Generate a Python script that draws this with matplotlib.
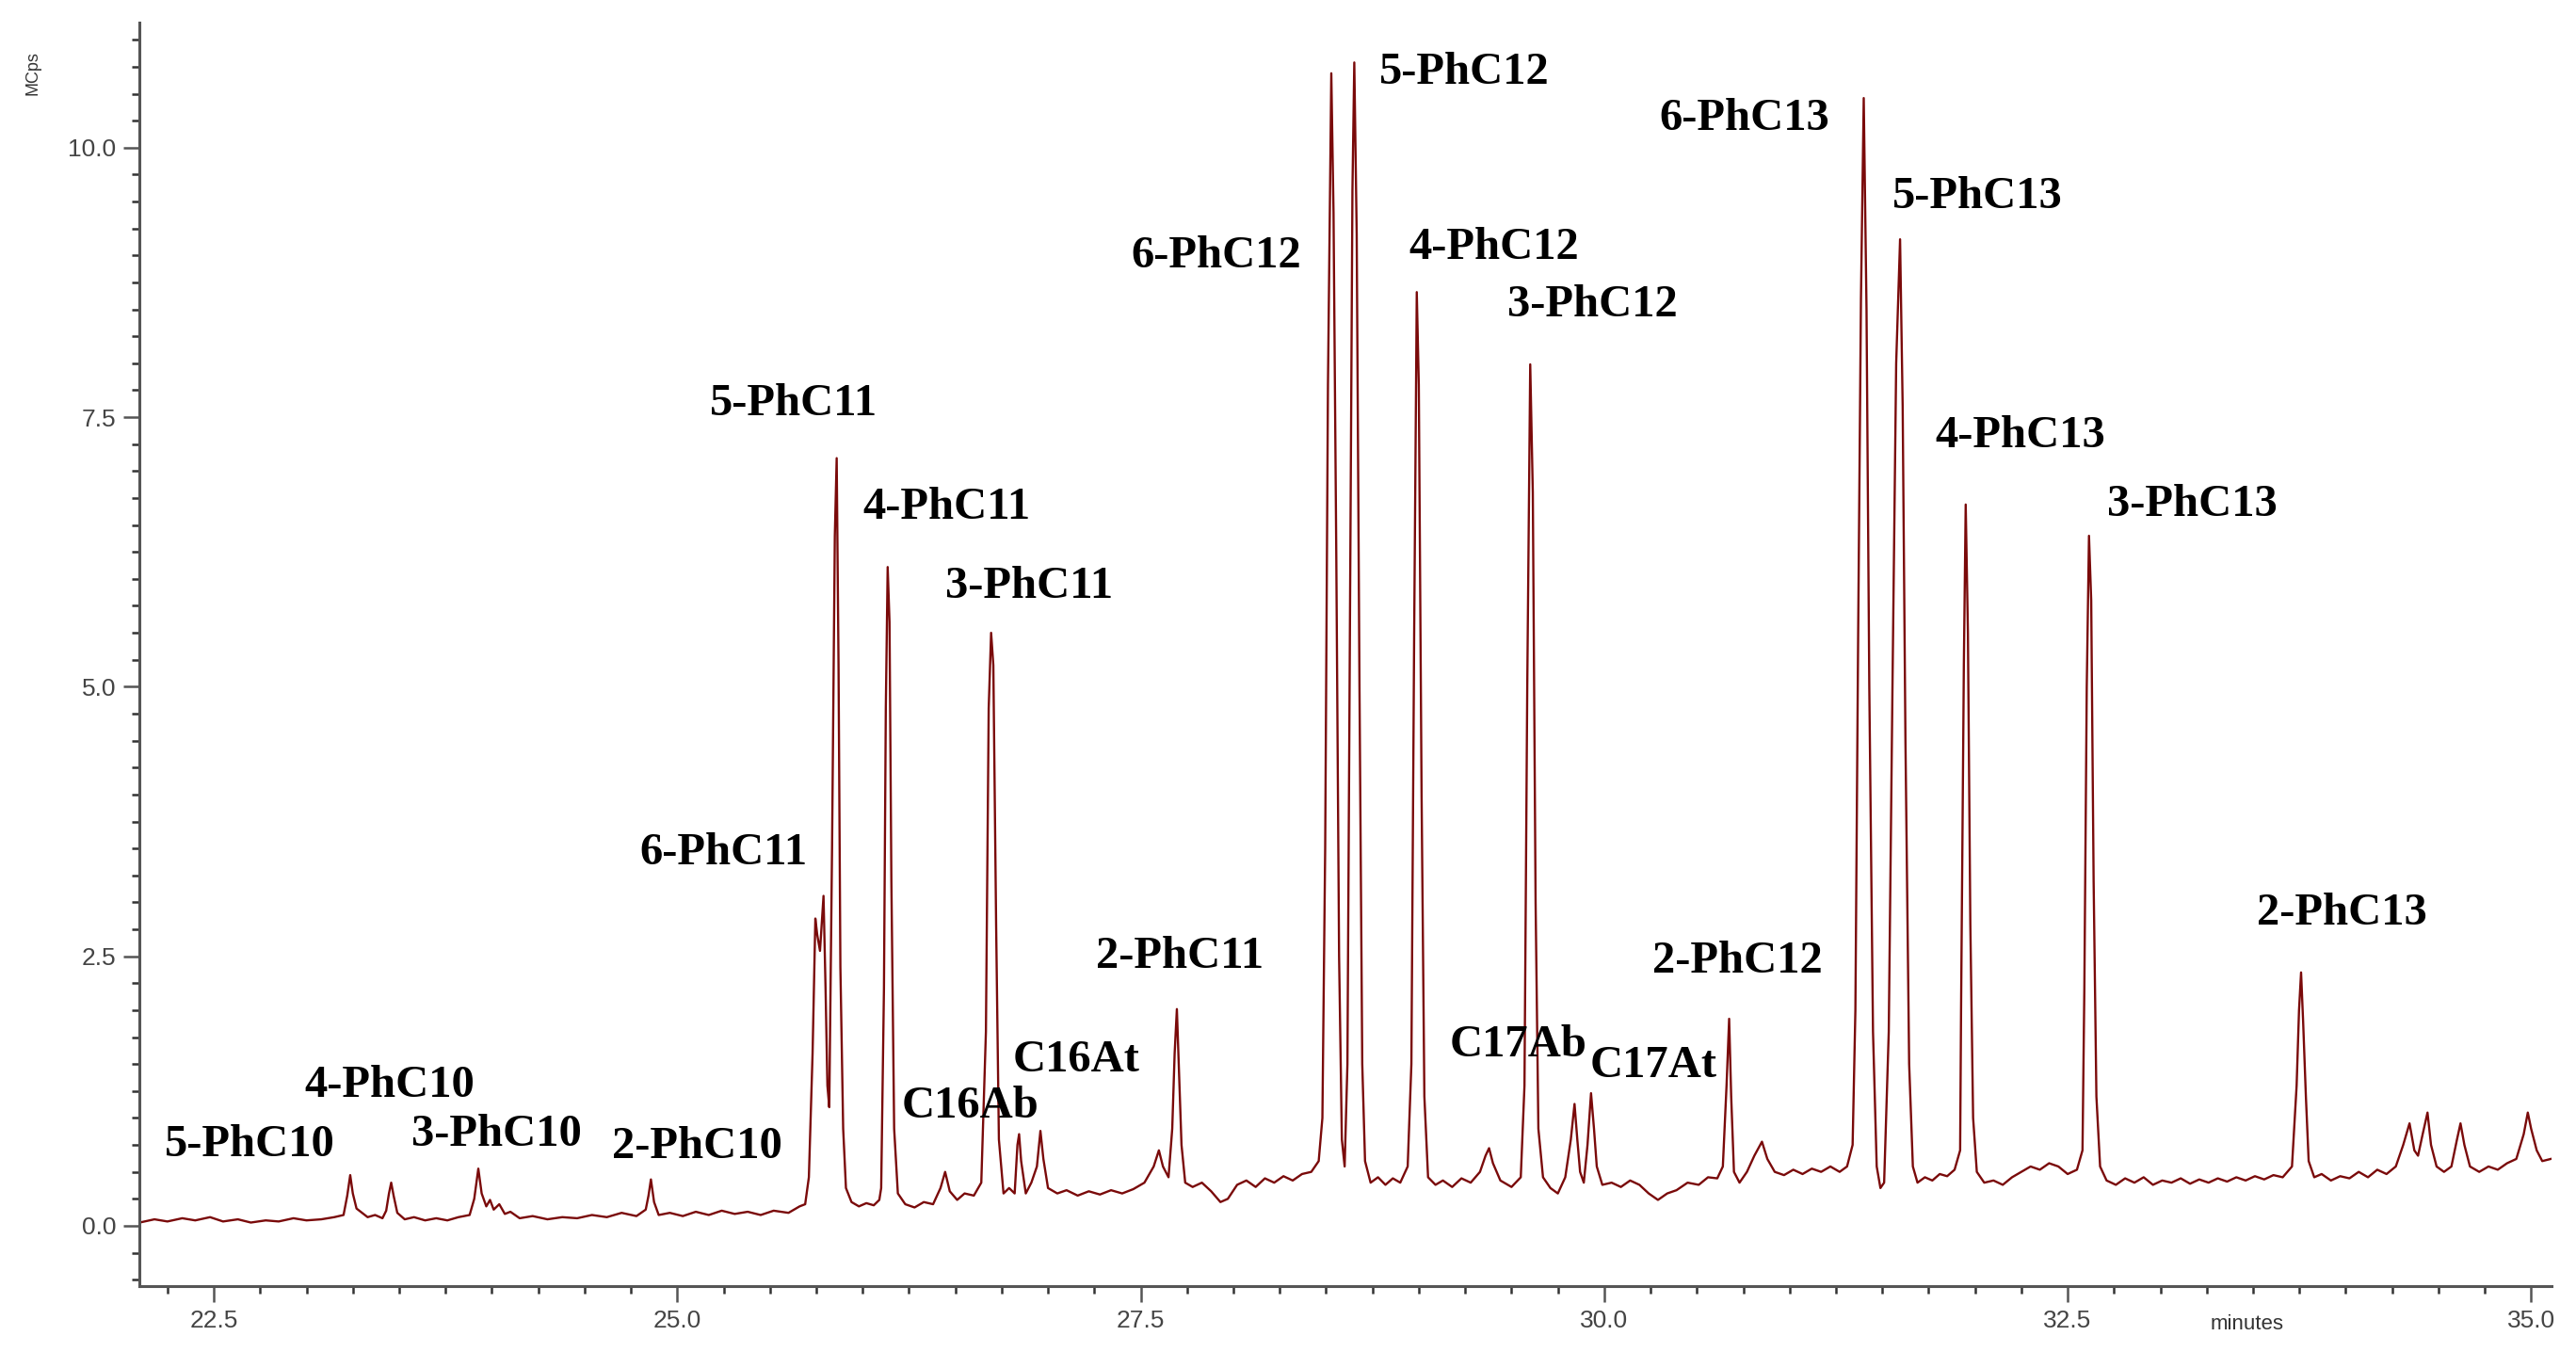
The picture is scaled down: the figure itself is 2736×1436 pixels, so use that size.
import matplotlib
matplotlib.use("Agg")
from matplotlib import pyplot as plt
from matplotlib.ticker import MultipleLocator

# chromatogram trace (minutes, MCps)
rt = [
    22.10, 22.18, 22.25, 22.33, 22.40, 22.48, 22.55, 22.63, 22.70, 22.78, 22.85, 22.93, 23.00, 23.08, 23.15,
    23.20, 23.22, 23.236, 23.25, 23.27, 23.30, 23.33, 23.37, 23.41,
    23.43, 23.445, 23.457, 23.47, 23.49, 23.53, 23.58, 23.64, 23.70, 23.76, 23.82, 23.88,
    23.905, 23.927, 23.945, 23.97, 23.99, 24.01, 24.04, 24.07, 24.10, 24.15, 24.22, 24.30, 24.38, 24.46,
    24.54, 24.62, 24.70, 24.78, 24.83,
    24.845, 24.858, 24.875, 24.90, 24.96, 25.03, 25.10, 25.17, 25.24, 25.31, 25.38, 25.45, 25.52, 25.60,
    25.66, 25.69,
    25.71, 25.73, 25.745, 25.755, 25.77, 25.789, 25.80, 25.81, 25.82, 25.835, 25.85, 25.86, 25.87, 25.88,
    25.895, 25.91, 25.94, 25.98, 26.02, 26.06, 26.09,
    26.10, 26.115, 26.125, 26.135, 26.145, 26.155, 26.17, 26.19, 26.23, 26.28, 26.33, 26.38, 26.42,
    26.445, 26.47, 26.51, 26.55, 26.60, 26.64,
    26.665, 26.68, 26.693, 26.705, 26.72, 26.735, 26.76, 26.79, 26.82, 26.835, 26.844, 26.855, 26.88,
    26.91, 26.94, 26.959, 26.975, 27.00, 27.05, 27.10, 27.16, 27.22, 27.28, 27.34, 27.40, 27.46, 27.52,
    27.57, 27.598, 27.62, 27.65,
    27.67, 27.683, 27.695, 27.705, 27.72, 27.74, 27.78, 27.83, 27.88, 27.93, 27.97, 28.02, 28.07, 28.12,
    28.17, 28.22, 28.27, 28.32, 28.37, 28.42, 28.46,
    28.48, 28.495, 28.51, 28.528, 28.54, 28.555, 28.57, 28.585, 28.60, 28.615, 28.63, 28.642, 28.652,
    28.665, 28.68, 28.695, 28.71, 28.74, 28.78, 28.82, 28.86, 28.90, 28.94,
    28.96, 28.975, 28.989, 29.00, 29.015, 29.03, 29.05, 29.09, 29.13, 29.18, 29.23, 29.28, 29.33, 29.36,
    29.379, 29.40, 29.44, 29.50, 29.55,
    29.57, 29.585, 29.601, 29.615, 29.63, 29.645, 29.67, 29.71, 29.75, 29.79, 29.82, 29.84, 29.855,
    29.87, 29.89, 29.91, 29.929, 29.945, 29.96, 29.99, 30.04, 30.09, 30.14, 30.19, 30.24, 30.29, 30.34,
    30.39, 30.45, 30.51, 30.56, 30.61, 30.64,
    30.66, 30.674, 30.685, 30.70, 30.73, 30.77, 30.81, 30.851, 30.88, 30.92, 30.97, 31.02, 31.07, 31.12,
    31.17, 31.22, 31.27, 31.31, 31.34,
    31.355, 31.37, 31.385, 31.40, 31.415, 31.43, 31.45, 31.47, 31.49, 31.51, 31.535, 31.555, 31.575,
    31.596, 31.61, 31.625, 31.645, 31.665, 31.69, 31.73, 31.77, 31.81, 31.85, 31.89, 31.92,
    31.925, 31.94, 31.95, 31.962, 31.975, 31.99, 32.01, 32.05, 32.10, 32.15, 32.20, 32.25, 32.30, 32.35,
    32.40, 32.45, 32.50, 32.55, 32.58,
    32.59, 32.603, 32.615, 32.627, 32.64, 32.655, 32.675, 32.71, 32.76, 32.81, 32.86, 32.91, 32.96,
    33.01, 33.06, 33.11, 33.16, 33.21, 33.26, 33.31, 33.36, 33.41, 33.46, 33.51, 33.56, 33.61, 33.66,
    33.71,
    33.735, 33.748, 33.759, 33.77, 33.785, 33.80, 33.83, 33.87, 33.92, 33.97, 34.02, 34.07, 34.12, 34.17,
    34.22, 34.27, 34.31, 34.344, 34.37, 34.39, 34.415, 34.441, 34.46, 34.49, 34.53, 34.57, 34.60, 34.619,
    34.64, 34.67, 34.72, 34.77, 34.82, 34.87, 34.92, 34.96, 34.982, 35.00, 35.03, 35.06, 35.106,
]
signal = [
    0.03, 0.06, 0.04, 0.07, 0.05, 0.08, 0.04, 0.06, 0.03, 0.05, 0.04, 0.07, 0.05, 0.06, 0.08,
    0.10, 0.28, 0.47, 0.30, 0.16, 0.12, 0.08, 0.10, 0.07,
    0.14, 0.30, 0.40, 0.28, 0.12, 0.06, 0.08, 0.05, 0.07, 0.05, 0.08, 0.10,
    0.25, 0.53, 0.30, 0.18, 0.24, 0.15, 0.20, 0.11, 0.13, 0.07, 0.09, 0.06, 0.08, 0.07,
    0.10, 0.08, 0.12, 0.09, 0.15,
    0.28, 0.43, 0.22, 0.10, 0.12, 0.09, 0.13, 0.10, 0.14, 0.11, 0.13, 0.10, 0.14, 0.12,
    0.18, 0.20,
    0.45, 1.60, 2.85, 2.70, 2.55, 3.06, 2.20, 1.30, 1.10, 3.50, 6.40, 7.12, 5.20, 2.40,
    0.90, 0.35, 0.22, 0.18, 0.21, 0.19, 0.24,
    0.35, 2.20, 4.80, 6.11, 5.60, 3.20, 0.90, 0.30, 0.20, 0.17, 0.22, 0.20, 0.35,
    0.50, 0.32, 0.24, 0.30, 0.28, 0.40,
    1.80, 4.80, 5.50, 5.20, 2.80, 0.80, 0.30, 0.35, 0.30, 0.75, 0.85, 0.60, 0.30,
    0.40, 0.55, 0.88, 0.62, 0.35, 0.30, 0.33, 0.28, 0.32, 0.29, 0.33, 0.30, 0.34, 0.40,
    0.55, 0.70, 0.55, 0.45,
    0.90, 1.60, 2.01, 1.50, 0.75, 0.40, 0.36, 0.40, 0.32, 0.22, 0.25, 0.38, 0.42, 0.36,
    0.44, 0.40, 0.46, 0.42, 0.48, 0.50, 0.60,
    1.00, 3.50, 7.80, 10.69, 9.40, 6.20, 2.50, 0.80, 0.55, 1.50, 6.00, 9.60, 10.79,
    9.20, 5.00, 1.50, 0.60, 0.40, 0.45, 0.38, 0.44, 0.40, 0.55,
    1.50, 5.50, 8.66, 7.80, 4.00, 1.20, 0.45, 0.38, 0.42, 0.36, 0.44, 0.40, 0.50, 0.65,
    0.72, 0.58, 0.42, 0.36, 0.45,
    1.30, 5.00, 7.99, 6.80, 3.00, 0.90, 0.45, 0.35, 0.30, 0.45, 0.80, 1.13, 0.80,
    0.50, 0.40, 0.75, 1.23, 0.90, 0.55, 0.38, 0.40, 0.36, 0.42, 0.38, 0.30, 0.24, 0.30,
    0.33, 0.40, 0.38, 0.45, 0.44, 0.55,
    1.30, 1.92, 1.20, 0.50, 0.40, 0.50, 0.65, 0.78, 0.62, 0.50, 0.47, 0.52, 0.48, 0.53,
    0.50, 0.55, 0.50, 0.55, 0.75,
    2.00, 5.50, 8.60, 10.46, 8.50, 5.00, 1.80, 0.55, 0.35, 0.40, 1.80, 5.00, 8.00,
    9.15, 7.60, 4.50, 1.50, 0.55, 0.40, 0.45, 0.42, 0.48, 0.46, 0.52, 0.70,
    2.00, 5.20, 6.69, 5.50, 2.80, 1.00, 0.50, 0.40, 0.42, 0.38, 0.45, 0.50, 0.55, 0.52,
    0.58, 0.55, 0.48, 0.52, 0.70,
    2.20, 5.00, 6.40, 5.80, 3.20, 1.20, 0.55, 0.42, 0.38, 0.44, 0.40, 0.45, 0.38,
    0.42, 0.40, 0.44, 0.39, 0.43, 0.40, 0.44, 0.41, 0.45, 0.42, 0.46, 0.43, 0.47, 0.45,
    0.55,
    1.30, 2.00, 2.35, 1.90, 1.20, 0.60, 0.45, 0.48, 0.42, 0.46, 0.44, 0.50, 0.45, 0.52,
    0.48, 0.55, 0.75, 0.95, 0.70, 0.65, 0.85, 1.05, 0.75, 0.55, 0.50, 0.55, 0.80, 0.95,
    0.75, 0.55, 0.50, 0.55, 0.52, 0.58, 0.62, 0.85, 1.05, 0.90, 0.70, 0.60, 0.62,
]

# peak names and where their text sits (centre of the text)
peak_names = ["5-PhC10", "4-PhC10", "3-PhC10", "2-PhC10", "6-PhC11", "5-PhC11", "4-PhC11",
              "3-PhC11", "C16Ab", "C16At", "2-PhC11", "6-PhC12", "5-PhC12", "4-PhC12",
              "3-PhC12", "C17Ab", "C17At", "2-PhC12", "6-PhC13", "5-PhC13", "4-PhC13",
              "3-PhC13", "2-PhC13"]
name_x = [22.695, 23.449, 24.025, 25.106, 25.248, 25.629, 26.454, 26.897, 26.578, 27.154,
          27.713, 27.908, 29.246, 29.406, 29.938, 29.539, 30.266, 30.718, 30.754, 32.012,
          32.243, 33.174, 33.98]
name_y = [0.75, 1.30, 0.85, 0.73, 3.46, 7.62, 6.66, 5.93, 1.11, 1.54, 2.50, 8.99, 10.70,
          9.07, 8.54, 1.68, 1.48, 2.45, 10.27, 9.54, 7.33, 6.69, 2.90]

fig = plt.figure(figsize=(27.36, 14.36), dpi=100)
ax = fig.add_axes([0.0542, 0.0487, 0.9363, 0.9346])

ax.plot(rt, signal, color="#7a0a0a", linewidth=1.7)

for name, x, y in zip(peak_names, name_x, name_y):
    ax.text(x, y, name, ha="center", va="center", fontsize=35, fontweight="bold",
            family="Liberation Serif", color="black")

ax.set_xlim(22.1, 35.11)
ax.set_ylim(-0.56, 11.16)
ax.xaxis.set_major_locator(MultipleLocator(2.5))
ax.xaxis.set_minor_locator(MultipleLocator(0.25))
ax.yaxis.set_major_locator(MultipleLocator(2.5))
ax.yaxis.set_minor_locator(MultipleLocator(0.25))
ax.xaxis.set_major_formatter(lambda v, p: f"{v:.1f}")
ax.yaxis.set_major_formatter(lambda v, p: f"{v:.1f}")

for side in ["top", "right"]:
    ax.spines[side].set_visible(False)
for side in ["left", "bottom"]:
    ax.spines[side].set_color("#555555")
    ax.spines[side].set_linewidth(2.2)

ax.tick_params(which="major", length=12, width=1.8, color="#555555", labelsize=19,
               labelcolor="#444444", pad=6)
ax.tick_params(which="minor", length=6, width=1.8, color="#333333")
for lab in ax.get_xticklabels() + ax.get_yticklabels():
    lab.set_family("Liberation Sans")

fig.text(35 / 2736, 1 - 78 / 1436, "MCps", rotation=90, ha="center", va="center",
         fontsize=13, color="#333333", family="Liberation Sans")
fig.text(2387 / 2736, 1 - 1406 / 1436, "minutes", ha="center", va="center",
         fontsize=16, color="#333333", family="Liberation Sans")

plt.savefig("out.png", dpi=100)
